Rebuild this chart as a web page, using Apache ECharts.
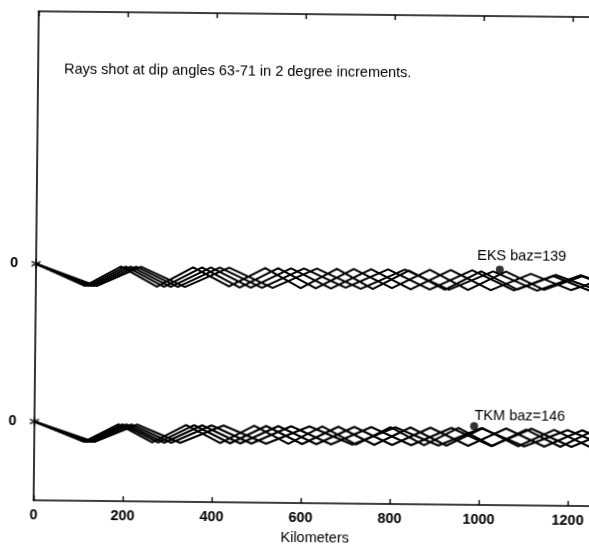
<!DOCTYPE html>
<html>
<head>
<meta charset="utf-8">
<title>Rays shot at dip angles 63-71</title>
<script src="https://cdn.jsdelivr.net/npm/echarts@6/dist/echarts.min.js"></script>
<style>
  html, body { margin: 0; padding: 0; background: #fff; overflow: hidden; }
  /* the scanned figure sits slightly rotated on the page */
  #chart { width: 600px; height: 550px; transform: rotate(0.6deg); transform-origin: 294.5px 275px; }
</style>
</head>
<body>
<div id="chart"></div>
<script>
// x = distance along profile (km), y = depth of bounce point below the station level
const xTickStep = 200
const yZeroTicks = [0, -160]   // both traces are drawn on their own zero
const tkmShift = -160          // TKM traces sit below the EKS traces

const eks71 = [[0, 0], [110, -22], [191, -2], [272, -22], [353, -2], [434, -21], [515, -2], [595, -22], [676, -2], [757, -22], [838, -3], [919, -22], [1000, -3], [1081, -21], [1162, -7], [1242, -21], [1323, -7]]
const eks69 = [[0, 0], [117, -22], [202, -2], [288, -22], [373, -2], [458, -22], [544, -2], [629, -22], [714, -2], [800, -21], [885, -2], [971, -22], [1056, -3], [1141, -21], [1227, -7], [1312, -21]]
const eks67 = [[0, 0], [124, -22], [213, -2], [303, -22], [393, -2], [483, -22], [573, -2], [663, -22], [753, -2], [842, -22], [932, -2], [1022, -22], [1112, -5], [1202, -21], [1292, -7]]
const eks65 = [[0, 0], [130, -22], [225, -2], [319, -22], [413, -2], [508, -22], [602, -2], [696, -21], [791, -2], [885, -22], [980, -2], [1074, -22], [1168, -6], [1263, -21], [1357, -7]]
const eks63 = [[0, 0], [137, -22], [236, -2], [335, -22], [434, -2], [532, -22], [631, -2], [730, -22], [829, -2], [928, -22], [1027, -3], [1126, -22], [1224, -6], [1323, -21]]

const tkm71 = [[0, 0], [112, -20], [189, -2], [265, -20], [341, -2], [418, -20], [494, -2], [571, -20], [647, -2], [723, -20], [800, -2], [876, -20], [953, -2], [1029, -20], [1105, -3], [1182, -20], [1258, -3], [1335, -20]]
const tkm69 = [[0, 0], [117, -20], [198, -2], [279, -20], [359, -2], [440, -20], [521, -2], [602, -20], [683, -2], [764, -20], [845, -2], [926, -20], [1007, -2], [1087, -20], [1168, -3], [1249, -20], [1330, -3]]
const tkm67 = [[0, 0], [121, -20], [207, -2], [292, -20], [377, -2], [463, -20], [548, -2], [634, -20], [719, -2], [804, -20], [890, -2], [975, -20], [1060, -2], [1146, -20], [1231, -3], [1317, -20]]
const tkm65 = [[0, 0], [128, -20], [218, -2], [308, -20], [398, -2], [488, -20], [577, -2], [667, -20], [757, -2], [847, -20], [937, -2], [1027, -20], [1117, -2], [1207, -20], [1296, -3]]
const tkm63 = [[0, 0], [135, -20], [231, -2], [328, -20], [425, -2], [521, -20], [618, -2], [715, -20], [811, -2], [908, -20], [1004, -2], [1101, -20], [1198, -3], [1294, -20]]

const eksStation = [1042, -1]
const tkmStation = [988, 0]
const sources = [[0, 0], [0, 0]]

const font = 'Liberation Sans, Arial, Helvetica, sans-serif'
const ink = '#000'

function raySeries(name, pts, shift) {
  return {
    name: name,
    type: 'line',
    data: pts.map(p => [p[0], p[1] + shift]),
    symbol: 'none',
    lineStyle: { color: ink, width: 2.1 },
    clip: true,
    silent: true,
    animation: false
  }
}

const series = [
  raySeries('EKS 71', eks71, 0),
  raySeries('EKS 69', eks69, 0),
  raySeries('EKS 67', eks67, 0),
  raySeries('EKS 65', eks65, 0),
  raySeries('EKS 63', eks63, 0),
  raySeries('TKM 71', tkm71, tkmShift),
  raySeries('TKM 69', tkm69, tkmShift),
  raySeries('TKM 67', tkm67, tkmShift),
  raySeries('TKM 65', tkm65, tkmShift),
  raySeries('TKM 63', tkm63, tkmShift),
  {
    name: 'stations',
    type: 'scatter',
    data: [eksStation, [tkmStation[0], tkmStation[1] + tkmShift]],
    symbol: 'circle',
    symbolSize: 8,
    itemStyle: { color: ink },
    animation: false
  },
  {
    name: 'sources',
    type: 'scatter',
    data: [sources[0], [sources[1][0], sources[1][1] + tkmShift]],
    symbol: 'path://M5,0L5,10M0.7,2.5L9.3,7.5M0.7,7.5L9.3,2.5',
    symbolSize: 9,
    itemStyle: { color: 'none', borderColor: ink, borderWidth: 1.6 },
    animation: false
  }
]

const chart = echarts.init(document.getElementById('chart'))
const option = {
  backgroundColor: '#fff',
  animation: false,
  grid: { left: 36, right: 1, top: 14, bottom: 40 },
  xAxis: [{
    type: 'value',
    position: 'bottom',
    min: 0,
    max: 1265,
    interval: xTickStep,
    name: 'Kilometers',
    nameLocation: 'middle',
    nameGap: 25,
    nameTextStyle: { color: ink, fontSize: 14.5, fontFamily: font },
    axisLine: { onZero: false, lineStyle: { color: ink, width: 1.6 } },
    axisTick: { inside: true, length: 5, lineStyle: { color: ink, width: 1.4 } },
    axisLabel: { color: ink, fontSize: 14.5, fontWeight: 'bold', fontFamily: font, margin: 7, showMaxLabel: false, formatter: v => String(v) },
    splitLine: { show: false }
  }, {
    type: 'value',
    position: 'top',
    min: 0,
    max: 1265,
    interval: xTickStep,
    axisLine: { onZero: false, lineStyle: { color: ink, width: 1.6 } },
    axisTick: { inside: true, length: 5, lineStyle: { color: ink, width: 1.4 } },
    axisLabel: { show: false },
    splitLine: { show: false }
  }],
  yAxis: {
    type: 'value',
    min: -240,
    max: 256,
    interval: 8,
    axisLine: { show: true, onZero: false, lineStyle: { color: ink, width: 1.6 } },
    axisTick: { show: false },
    splitLine: { show: false },
    axisLabel: {
      color: ink,
      fontSize: 14.5,
      fontWeight: 'bold',
      fontFamily: font,
      margin: 18,
      formatter: v => (yZeroTicks.includes(v) ? '0' : '')
    }
  },
  graphic: [
    {
      type: 'text',
      x: 62,
      y: 72,
      style: { text: 'Rays shot at dip angles 63-71 in 2 degree increments.', fill: ink, font: '14.5px ' + font, verticalAlign: 'middle' }
    },
    {
      type: 'text',
      x: 477,
      y: 254,
      style: { text: 'EKS baz=139', fill: ink, font: '14.5px ' + font, verticalAlign: 'middle' }
    },
    {
      type: 'text',
      x: 476,
      y: 414,
      style: { text: 'TKM baz=146', fill: ink, font: '14.5px ' + font, verticalAlign: 'middle' }
    }
  ],
  series: series
}
chart.setOption(option)
</script>
</body>
</html>
